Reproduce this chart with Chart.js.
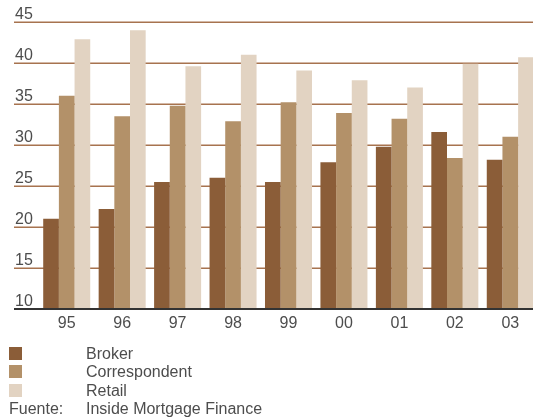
<!DOCTYPE html>
<html>
<head>
<meta charset="utf-8">
<script src="https://cdn.jsdelivr.net/npm/chart.js@4/dist/chart.umd.min.js"></script>
<style>
  html, body { margin: 0; padding: 0; background: #fff; overflow: hidden; }
  #wrap { position: relative; width: 538px; height: 420px; }
  #legend {
    position: absolute; left: 9px; top: 345px;
    font: 16px "Liberation Sans", Arial, sans-serif; line-height: 18.4px; color: #4d4d4d;
  }
  .row { position: relative; height: 18.4px; white-space: nowrap; }
  .sw { position: absolute; left: 0; top: 2px; width: 13px; height: 13px; }
  .txt { position: absolute; left: 77px; top: 0; }
</style>
</head>
<body>
<div id="wrap">
  <canvas id="chart" width="538" height="420"></canvas>
  <div id="legend"></div>
</div>
<script>
// Years (two-digit labels) along the category axis
const years = ['95', '96', '97', '98', '99', '00', '01', '02', '03'];

// Market share by origination channel, per cent
const broker        = [21.0, 22.2, 25.5, 26.0, 25.5, 27.9, 29.8, 31.6, 28.2];
const correspondent = [36.0, 33.5, 34.8, 32.9, 35.2, 33.9, 33.2, 28.4, 31.0];
const retail        = [42.9, 44.0, 39.6, 41.0, 39.1, 37.9, 37.0, 39.9, 40.7];

// Value axis ticks
const yTicks = [10, 15, 20, 25, 30, 35, 40, 45];

const seriesNames = ['Broker', 'Correspondent', 'Retail'];
const seriesColors = ['#8b5d38', '#b39169', '#e2d3c2'];
const sourceLabel = 'Fuente:';
const sourceText = 'Inside Mortgage Finance';

const TEXT_COLOR = '#4d4d4d';
const RULE_COLOR = '#a7734f';
const FONT = { family: '"Liberation Sans", Arial, sans-serif', size: 16 };

// Horizontal rules that run out past the plot to the left edge, plus the dark base line
const rules = {
  id: 'rules',
  beforeDatasetsDraw(chart) {
    const { ctx, scales: { y } } = chart;
    ctx.save();
    ctx.strokeStyle = RULE_COLOR;
    ctx.lineWidth = 1.5;
    y.ticks.forEach(t => {
      if (t.value === y.min) return;
      const py = Math.round(y.getPixelForValue(t.value)) + 0.25;
      ctx.beginPath();
      ctx.moveTo(y.left - 1, py);
      ctx.lineTo(chart.width, py);
      ctx.stroke();
    });
    ctx.restore();
  },
  afterDatasetsDraw(chart) {
    const { ctx, scales: { y } } = chart;
    const py = y.getPixelForValue(y.min);
    ctx.save();
    ctx.strokeStyle = '#333333';
    ctx.lineWidth = 2;
    ctx.beginPath();
    ctx.moveTo(y.left - 1, py);
    ctx.lineTo(chart.width, py);
    ctx.stroke();
    ctx.restore();
  }
};

const datasets = [broker, correspondent, retail].map((values, i) => ({
  label: seriesNames[i],
  data: values,
  backgroundColor: seriesColors[i],
  borderWidth: 0,
  categoryPercentage: 0.848,
  barPercentage: 1.0
}));

const chart = new Chart(document.getElementById('chart'), {
  type: 'bar',
  data: { labels: years, datasets },
  plugins: [rules],
  options: {
    responsive: false,
    animation: false,
    layout: { padding: { left: 15, right: 0, top: 22, bottom: 80 } },
    plugins: { legend: { display: false }, tooltip: { enabled: false } },
    scales: {
      x: {
        grid: { display: false, drawTicks: false },
        border: { display: false },
        ticks: { color: TEXT_COLOR, font: FONT, padding: 5, maxRotation: 0 },
        afterFit(scale) { scale.height = 31; }
      },
      y: {
        min: 10,
        max: 45,
        grid: { display: false, drawTicks: false },
        border: { display: false },
        afterBuildTicks(scale) { scale.ticks = yTicks.map(v => ({ value: v })); },
        ticks: { color: TEXT_COLOR, font: FONT, crossAlign: 'far', labelOffset: -7, padding: 0 },
        afterFit(scale) { scale.width = 24; }
      }
    }
  }
});

// Legend rows and source note, built from the chart's own datasets
const legend = document.getElementById('legend');
chart.data.datasets.forEach(ds => {
  const row = document.createElement('div');
  row.className = 'row';
  const sw = document.createElement('span');
  sw.className = 'sw';
  sw.style.background = ds.backgroundColor;
  const txt = document.createElement('span');
  txt.className = 'txt';
  txt.textContent = ds.label;
  row.appendChild(sw);
  row.appendChild(txt);
  legend.appendChild(row);
});
const src = document.createElement('div');
src.className = 'row';
src.innerHTML = '<span>' + sourceLabel + '</span><span class="txt">' + sourceText + '</span>';
legend.appendChild(src);
</script>
</body>
</html>
